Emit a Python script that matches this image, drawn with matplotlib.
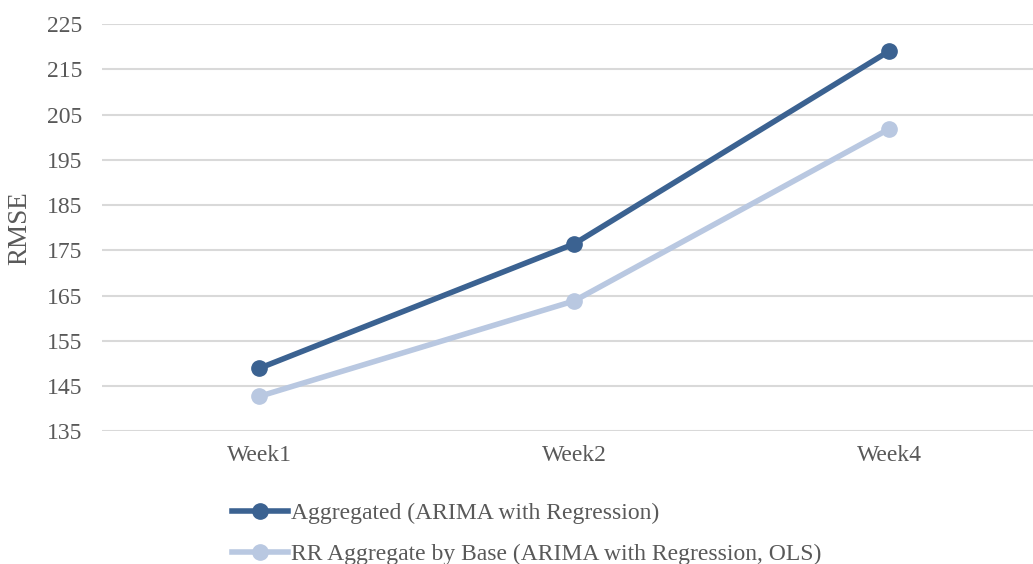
import matplotlib.pyplot as plt
import numpy as np

weeks = ["Week1", "Week2", "Week4"]
aggregated = [148.9, 176.4, 219.0]
rr_by_base = [142.7, 163.8, 201.8]
labels = ["Aggregated (ARIMA with Regression)",
          "RR Aggregate by Base (ARIMA with Regression, OLS)"]

plt.rcParams['font.family'] = ['Liberation Serif', 'DejaVu Serif']
text_color = "#595959"

fig = plt.figure(figsize=(10.33, 5.64), dpi=100)
ax = fig.add_axes([0.0983, 0.2353, 0.9148, 0.7221])

x = np.arange(len(weeks))
ax.plot(x, aggregated, color="#3B6291", lw=4, marker="o", ms=11, label=labels[0])
ax.plot(x, rr_by_base, color="#B9C8E1", lw=4, marker="o", ms=11, label=labels[1])

ax.set_xlim(-0.5, 2.5)
ax.set_ylim(135, 225)
ax.set_yticks(np.arange(135, 226, 10))
ax.set_xticks(x)
ax.set_xticklabels(weeks)
ax.grid(axis="y", color="#D9D9D9", lw=1.5)
ax.set_axisbelow(True)
for s in ax.spines.values():
    s.set_visible(False)
ax.tick_params(axis="both", length=0, labelsize=17, colors=text_color)
ax.tick_params(axis="y", pad=14)
ax.tick_params(axis="x", pad=10)
ax.set_ylabel("RMSE", fontsize=19.5, color=text_color, labelpad=10)

fig.legend(loc="upper left", bbox_to_anchor=(0.215, 0.125), frameon=False,
           fontsize=17, handlelength=2.4, handletextpad=0.1, labelspacing=0.8,
           labelcolor=text_color, borderaxespad=0)

fig.savefig("out.png", dpi=100)
